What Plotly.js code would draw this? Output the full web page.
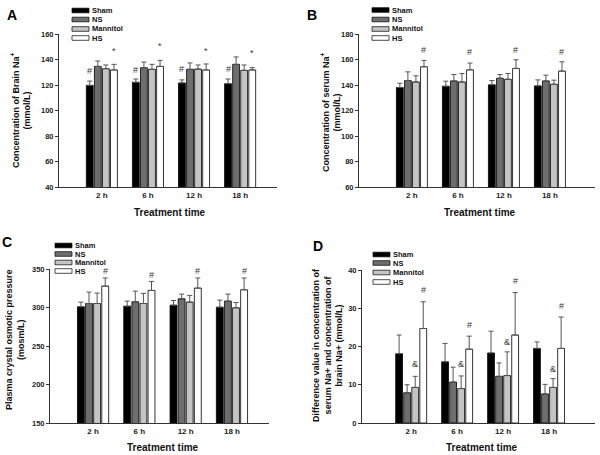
<!DOCTYPE html>
<html><head><meta charset="utf-8">
<script src="https://cdn.plot.ly/plotly-3.0.1.min.js"></script>
<style>html,body{margin:0;padding:0;background:#fff}#plot{width:600px;height:455px}</style>
</head><body><div id="plot"></div>
<script>
// ---- data ----
const categories = ["2 h", "6 h", "12 h", "18 h"];
const seriesNames = ["Sham", "NS", "Mannitol", "HS"];

// Panel A: brain Na+ (mmol/L)
const brainSham = [119.7, 122.1, 121.6, 121.0];
const brainNS = [134.6, 133.6, 132.3, 136.2];
const brainMannitol = [132.8, 132.3, 132.5, 131.5];
const brainHS = [131.8, 134.6, 131.8, 131.8];
const brainShamErr = [3.4, 2.6, 2.4, 3.7];
const brainNSErr = [4.2, 4.4, 5.0, 5.8];
const brainMannitolErr = [2.9, 3.9, 3.2, 4.2];
const brainHSErr = [4.4, 4.7, 4.7, 1.8];

// Panel B: serum Na+ (mmol/L)
const serumSham = [138.0, 139.0, 140.1, 139.3];
const serumNS = [143.5, 143.2, 145.3, 143.2];
const serumMannitol = [142.4, 142.4, 144.5, 140.6];
const serumHS = [154.3, 151.9, 153.0, 150.9];
const serumShamErr = [3.4, 4.0, 3.4, 4.7];
const serumNSErr = [6.8, 5.0, 2.9, 4.5];
const serumMannitolErr = [4.8, 6.6, 4.5, 3.2];
const serumHSErr = [5.0, 5.3, 6.8, 7.3];

// Panel C: plasma crystal osmotic pressure (mosm/L)
const osmSham = [300.9, 301.7, 303.0, 300.4];
const osmNS = [305.2, 307.4, 311.3, 308.3];
const osmMannitol = [305.2, 305.2, 307.0, 299.6];
const osmHS = [327.8, 322.2, 325.2, 323.0];
const osmShamErr = [6.1, 6.6, 6.1, 9.2];
const osmNSErr = [14.8, 13.9, 6.1, 9.1];
const osmMannitolErr = [13.5, 13.1, 8.7, 6.9];
const osmHSErr = [10.5, 11.7, 13.1, 15.3];

// Panel D: difference serum Na+ - brain Na+ (mmol/L)
const diffSham = [18.1, 16.0, 18.3, 19.5];
const diffNS = [7.9, 10.7, 12.2, 7.6];
const diffMannitol = [9.3, 9.0, 12.4, 9.3];
const diffHS = [24.7, 19.3, 23.0, 19.5];
const diffShamErr = [4.9, 4.8, 5.7, 1.7];
const diffNSErr = [2.1, 3.9, 3.5, 2.5];
const diffMannitolErr = [2.9, 3.3, 6.2, 2.3];
const diffHSErr = [7.0, 3.4, 11.1, 8.2];

// significance marks: [label, series index, y positions per category]
const marksBrainSham = ["#", 0, [130.7, 132.0, 132.5, 132.5]];
const marksBrainHS = ["*", 3, [147.0, 150.8, 147.0, 145.0]];
const marksSerumHS = ["#", 3, [167.7, 165.8, 167.7, 165.8]];
const marksOsmHS = ["#", 3, [346.8, 342.6, 347.5, 347.5]];
const marksDiffHS = ["#", 3, [34.8, 25.7, 37.1, 30.6]];
const marksDiffMannitol = ["&", 2, [15.5, 15.5, 21.2, 14.1]];

// ---- styling ----
const colors = ["#000000", "#6e6e6e", "#c4c4c4", "#ffffff"];
const FONT = "Liberation Sans, Arial, sans-serif";
const W = 600, H = 455;
const px = x => x / W;
const py = y => 1 - y / H;
const BARGAP = 0.3;

const panels = [
  {ax: "", vals: [brainSham, brainNS, brainMannitol, brainHS], errs: [brainShamErr, brainNSErr, brainMannitolErr, brainHSErr],
   box: [59, 277, 34, 187], xr: [-0.93, 3.8], yr: [40, 160], dt: 20,
   marks: [marksBrainSham, marksBrainHS], label: "A", labelPos: [12, 15],
   legX: 72, legY: [10.5, 19.5, 29, 38],
   ytitle: "Concentration of Brain Na<sup>+</sup><br>(mmol/L)", ytPos: [20, 110], xtPos: [170, 212]},
  {ax: "2", vals: [serumSham, serumNS, serumMannitol, serumHS], errs: [serumShamErr, serumNSErr, serumMannitolErr, serumHSErr],
   box: [359, 595, 34, 187], xr: [-1.15, 3.98], yr: [60, 180], dt: 20,
   marks: [marksSerumHS], label: "B", labelPos: [312, 15],
   legX: 372, legY: [10, 19.5, 29, 38],
   ytitle: "Concentration of serum Na<sup>+</sup><br>(mmol/L)", ytPos: [330, 112], xtPos: [480, 212]},
  {ax: "3", vals: [osmSham, osmNS, osmMannitol, osmHS], errs: [osmShamErr, osmNSErr, osmMannitolErr, osmHSErr],
   box: [50, 269, 269, 423], xr: [-0.93, 3.8], yr: [150, 350], dt: 50,
   marks: [marksOsmHS], label: "C", labelPos: [7, 242],
   legX: 55, legY: [245.5, 254, 262.5, 271],
   ytitle: "Plasma crystal osmotic pressure<br>(mosm/L)", ytPos: [15, 340], xtPos: [163, 447]},
  {ax: "4", vals: [diffSham, diffNS, diffMannitol, diffHS], errs: [diffShamErr, diffNSErr, diffMannitolErr, diffHSErr],
   box: [362, 595, 270, 423], xr: [-1.07, 4.0], yr: [0, 40], dt: 10,
   marks: [marksDiffHS, marksDiffMannitol], label: "D", labelPos: [318, 246],
   legX: 373, legY: [254.5, 263, 272.5, 282],
   ytitle: "Difference value in concentration of<br>serum Na+ and concentration of<br>brain Na+ (mmol/L)", ytPos: [327, 345], xtPos: [482, 447]}
];

const traces = [];
const shapes = [];
const annotations = [];
const layout = {
  width: W, height: H, margin: {l: 0, r: 0, t: 0, b: 0},
  paper_bgcolor: "#fff", plot_bgcolor: "#fff", showlegend: false,
  barmode: "group", bargap: BARGAP, bargroupgap: 0.15,
  font: {family: FONT, color: "#222"},
  shapes: shapes, annotations: annotations
};

panels.forEach(p => {
  const xa = "x" + p.ax, ya = "y" + p.ax;
  p.vals.forEach((v, i) => {
    traces.push({
      type: "bar", x: categories, y: v, name: seriesNames[i],
      xaxis: xa, yaxis: ya,
      marker: {color: colors[i], line: {color: "#000", width: 0.8}},
      error_y: {type: "data", symmetric: false, array: p.errs[i], arrayminus: v.map(() => 0),
                color: "#555", thickness: 1, width: 2.5},
      hoverinfo: "x+y"
    });
  });
  const axKey = p.ax;
  layout["xaxis" + axKey] = {
    domain: [px(p.box[0]), px(p.box[1])], anchor: ya, type: "category",
    range: p.xr, showline: true, linecolor: "#333", linewidth: 1, ticks: "",
    showgrid: false, zeroline: false, fixedrange: true,
    tickfont: {family: FONT, size: 8, color: "#222", weight: "bold"}
  };
  layout["yaxis" + axKey] = {
    domain: [py(p.box[3]), py(p.box[2])], anchor: xa,
    range: p.yr, dtick: p.dt, tick0: p.yr[0], showline: true, linecolor: "#333", linewidth: 1,
    ticks: "outside", ticklen: 3, tickcolor: "#333", showgrid: false, zeroline: false, fixedrange: true,
    tickfont: {family: FONT, size: 7.5, color: "#222", weight: "bold"}
  };
  // significance marks
  const slot = (1 - BARGAP) / 4;
  p.marks.forEach(m => {
    const [txt, si, ys] = m;
    ys.forEach((yv, ci) => {
      annotations.push({xref: xa, yref: ya, x: ci + (si - 1.5) * slot, y: yv, text: txt, showarrow: false,
        font: {family: FONT, size: 9, color: "#333"}, xanchor: "center", yanchor: "middle", borderpad: 0});
    });
  });
  // panel letter
  annotations.push({xref: "paper", yref: "paper", x: px(p.labelPos[0]), y: py(p.labelPos[1]), text: "<b>" + p.label + "</b>",
    showarrow: false, font: {family: FONT, size: 14, color: "#000"}, xanchor: "center", yanchor: "middle"});
  // y title
  annotations.push({xref: "paper", yref: "paper", x: px(p.ytPos[0]), y: py(p.ytPos[1]), text: "<b>" + p.ytitle + "</b>",
    showarrow: false, textangle: -90, font: {family: FONT, size: 9, color: "#111"}, xanchor: "center", yanchor: "middle"});
  // x title
  annotations.push({xref: "paper", yref: "paper", x: px(p.xtPos[0]), y: py(p.xtPos[1]), text: "<b>Treatment time</b>",
    showarrow: false, font: {family: FONT, size: 10, color: "#111"}, xanchor: "center", yanchor: "middle"});
  // legend
  seriesNames.forEach((nm, i) => {
    const yc = p.legY[i];
    shapes.push({type: "rect", xref: "paper", yref: "paper", x0: px(p.legX), x1: px(p.legX + 17),
      y0: py(yc + 2.3), y1: py(yc - 2.3), fillcolor: colors[i], line: {color: "#000", width: 0.7}});
    annotations.push({xref: "paper", yref: "paper", x: px(p.legX + 19), y: py(yc), text: "<b>" + nm + "</b>",
      showarrow: false, font: {family: FONT, size: 7.5, color: "#111"}, xanchor: "left", yanchor: "middle", borderpad: 0});
  });
});

Plotly.newPlot("plot", traces, layout, {staticPlot: true, displayModeBar: false});
</script></body></html>
